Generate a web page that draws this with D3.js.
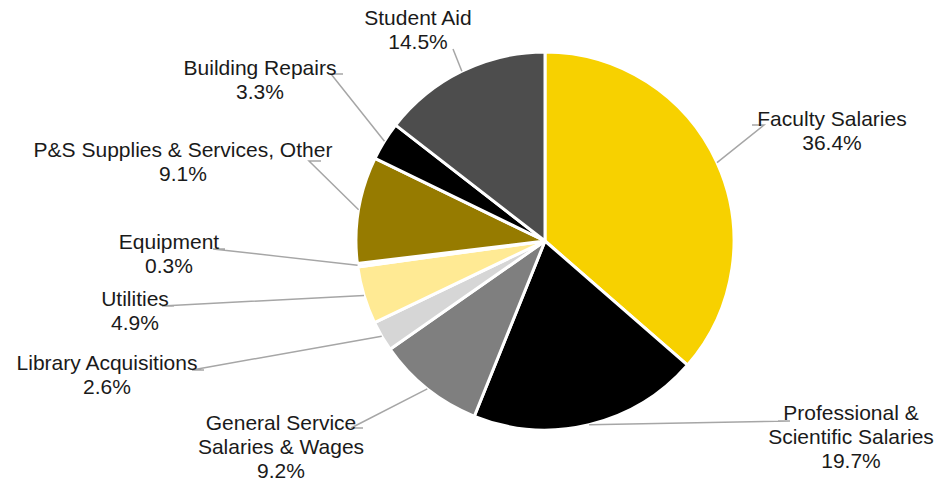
<!DOCTYPE html>
<html lang="en">
<head>
    <meta charset="UTF-8">
    <script src="https://d3js.org/d3.v7.min.js"></script>
    <title>Expenditure Pie</title>
    <style>
        body { margin: 0; background: #fff; }
        svg { display: block; }
        .lbl { font-family: "Liberation Sans", Arial, sans-serif; font-size: 21px; fill: #1a1a1a; }
    </style>
</head>
<body>
    <svg width="939" height="482"></svg>
    <script>
    // data
    const categories = ["Faculty Salaries", "Professional & Scientific Salaries", "General Service Salaries & Wages",
        "Library Acquisitions", "Utilities", "Equipment", "P&S Supplies & Services, Other",
        "Building Repairs", "Student Aid"];
    const labelLines = [["Faculty Salaries"], ["Professional &", "Scientific Salaries"], ["General Service", "Salaries & Wages"],
        ["Library Acquisitions"], ["Utilities"], ["Equipment"], ["P&S Supplies & Services, Other"],
        ["Building Repairs"], ["Student Aid"]];
    const shares = [36.4, 19.7, 9.2, 2.6, 4.9, 0.3, 9.1, 3.3, 14.5];
    const colors = ["#F7D100", "#000000", "#7F7F7F", "#D6D6D6", "#FFEA94", "#F2F2F2", "#967B00", "#000000", "#4D4D4D"];

    // where each label sits (text centre x, first baseline y, leader end x/y)
    const labelLayout = [
        {tx: 832, ty: 126, ex: 752, ey: 125, dir: 1},
        {tx: 851, ty: 420, ex: 778, ey: 421, dir: 1},
        {tx: 281, ty: 430, ex: 363, ey: 428, dir: -1},
        {tx: 107, ty: 370, ex: 204, ey: 370, dir: -1},
        {tx: 135, ty: 306, ex: 174, ey: 306, dir: -1},
        {tx: 169, ty: 249, ex: 225, ey: 249, dir: -1},
        {tx: 183, ty: 157, ex: 321, ey: 161, dir: -1},
        {tx: 260, ty: 75,  ex: 343, ey: 74,  dir: -1},
        {tx: 418, ty: 25,  ex: 453, ey: 49,  dir: 0}
    ];

    const svg = d3.select("svg");
    const cx = 545, cy = 241, r = 189;
    const lineH = 24;

    const data = categories.map((c, i) => ({name: c, value: shares[i], i: i}));

    const pie = d3.pie().sort(null).value(d => d.value).startAngle(0).endAngle(2 * Math.PI);
    const arcs = pie(data);

    const arc = d3.arc().innerRadius(0).outerRadius(r);
    const edge = d3.arc().innerRadius(r).outerRadius(r);

    const g = svg.append("g").attr("transform", `translate(${cx},${cy})`);

    g.selectAll("path.slice")
        .data(arcs)
        .enter()
        .append("path")
        .attr("class", "slice")
        .attr("d", arc)
        .attr("fill", d => colors[d.data.i])
        .attr("stroke", "#fff")
        .attr("stroke-width", 3)
        .attr("stroke-linejoin", "round");

    // leader lines
    const line = d3.line();
    svg.append("g").selectAll("path.leader")
        .data(arcs)
        .enter()
        .append("path")
        .attr("class", "leader")
        .attr("fill", "none")
        .attr("stroke", "#A6A6A6")
        .attr("stroke-width", 1.5)
        .attr("d", d => {
            const L = labelLayout[d.data.i];
            const c = edge.centroid(d);
            const start = [cx + c[0], cy + c[1]];
            const pts = [start];
            if (L.dir !== 0) pts.push([L.ex + 12 * L.dir, L.ey]);
            pts.push([L.ex, L.ey]);
            return line(pts);
        });

    // labels
    const labels = svg.append("g").selectAll("text")
        .data(data)
        .enter()
        .append("text")
        .attr("class", "lbl")
        .attr("text-anchor", "middle");

    labels.each(function(d) {
        const L = labelLayout[d.i];
        const t = d3.select(this);
        const lines = labelLines[d.i].concat([d.value.toFixed(1) + "%"]);
        lines.forEach((s, k) => {
            t.append("tspan").attr("x", L.tx).attr("y", L.ty + k * lineH).text(s);
        });
    });
    </script>
</body>
</html>
